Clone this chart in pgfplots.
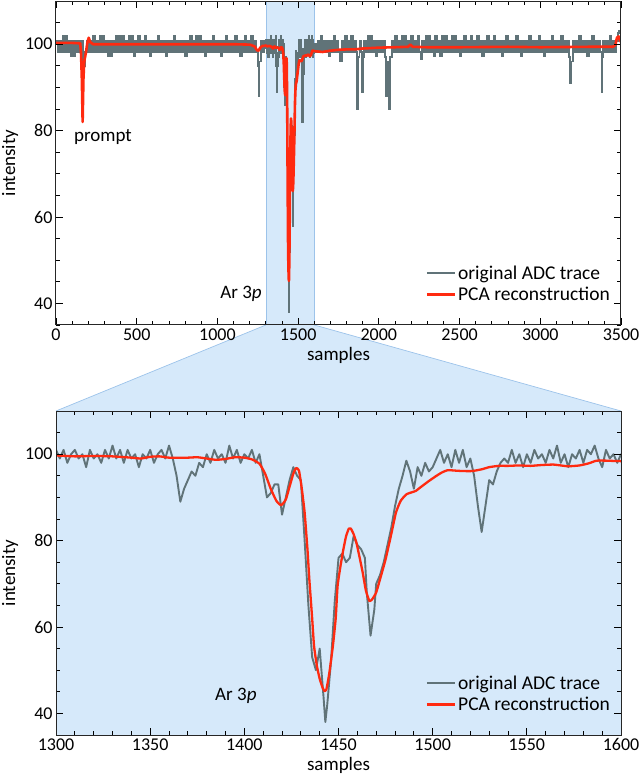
\documentclass[border=0pt]{standalone}
\usepackage{fontspec}
\setmainfont{Carlito}
\usepackage{pgfplots}
\pgfplotsset{compat=1.18}
\usepackage{pgfplotstable}
\definecolor{tracegray}{HTML}{607378}
\definecolor{pcared}{HTML}{FF2A10}
\definecolor{lightblue}{HTML}{D6E9FA}
\definecolor{edgeblue}{HTML}{9CC3EA}
\pgfdeclarelayer{background}
\pgfsetlayers{background,main}

% original ADC trace (coarse outside the zoomed window, fine inside it)
\pgfplotstableread{
x y
0 100.8
10 98.2
20 100.8
30 98.2
40 101.8
50 98.2
60 101.8
70 98.2
80 100.8
90 97.3
100 100.8
110 97.3
120 100.8
130 98.2
140 100.8
150 98.2
160 100.8
170 96
175 95
180 98.2
190 100.8
200 98.2
210 100.8
220 98.2
230 101.8
240 98.2
250 100.8
260 98.2
270 101.8
280 98.2
290 101.8
300 98.2
310 100.8
320 97.3
330 100.8
340 97.3
350 100.8
360 98.2
370 101.8
380 98.2
390 101.8
400 98.2
410 101.8
420 98.2
430 100.8
440 98.2
450 101.8
460 98.2
470 101.8
480 97.3
490 100.8
500 98.2
510 101.8
520 98.2
530 100.8
540 98.2
550 101.8
560 98.2
570 100.8
580 97.3
590 100.8
600 98.2
610 100.8
620 98.2
630 101.8
640 98.2
650 100.8
660 98.2
670 100.8
680 97.3
690 100.8
700 98.2
710 100.8
720 98.2
730 101.8
740 98.2
750 100.8
760 98.2
770 100.8
780 98.2
790 100.8
800 97.3
810 100.8
820 98.2
830 101.8
840 98.2
850 100.8
860 98.2
870 101.8
880 98.2
890 101.8
900 98.2
910 100.8
920 97.3
930 100.8
940 98.2
950 100.8
960 98.2
970 101.8
980 98.2
990 100.8
1000 98.2
1010 100.8
1020 97.3
1030 100.8
1040 98.2
1050 101.8
1060 98.2
1070 100.8
1080 98.2
1090 100.8
1100 98.2
1110 101.8
1120 98.2
1130 100.8
1140 97.3
1150 100.8
1160 98.2
1170 101.8
1180 98.2
1190 100.8
1200 98.2
1210 101.8
1220 98.2
1230 100.8
1240 98.2
1250 95
1255 88
1260 96
1270 100.8
1280 98.2
1290 100.8
1300 101
1302 99
1304 101
1306 98
1308 100
1310 101
1312 99
1314 100
1316 97
1318 101
1320 99
1322 100
1324 98
1326 101
1328 99
1330 102
1332 99
1334 101
1336 98
1338 101
1340 99
1342 100
1344 97
1346 100
1348 99
1350 101
1352 98
1354 100
1356 101
1358 99
1360 102
1362 99
1364 95
1366 89
1368 92
1370 94
1372 96
1374 95
1376 98
1378 97
1380 100
1382 98
1384 101
1386 99
1388 100
1390 98
1392 102
1394 99
1396 101
1398 98
1400 100
1402 99
1404 101
1406 98
1408 100
1410 95
1412 90
1414 91
1416 93
1418 93
1420 86
1422 90
1424 94
1426 97
1428 95
1430 94
1432 80
1434 65
1436 53
1438 50
1440 55
1442 44
1443 38
1444 42
1446 52
1448 66
1450 76
1452 77
1454 75
1456 76
1458 81
1460 79
1462 78
1464 76
1465 68
1467 58
1469 64
1470 70
1472 72
1474 75
1476 79
1478 83
1480 88
1482 92
1484 95
1486 98.5
1488 96
1490 92
1492 97
1494 95
1496 98
1498 96
1500 97
1502 99
1504 101
1506 98
1508 100
1510 97
1512 101
1514 98
1516 101
1518 97
1520 99
1522 95
1524 88
1526 82
1528 88
1530 94
1532 93
1534 96
1536 98
1538 99
1540 98
1542 101
1544 98
1546 100
1548 97
1550 100
1552 98
1554 101
1556 99
1558 100
1560 98
1562 101
1564 99
1566 102
1568 98
1570 100
1572 97
1574 100
1576 99
1578 101
1580 98
1582 101
1584 100
1586 102
1588 99
1590 97
1592 101
1594 99
1596 100
1598 98
1600 100
1610 98.2
1620 100.8
1630 98.2
1640 101.8
1650 98.2
1660 100.8
1670 98.2
1680 100.8
1690 97.3
1700 100.8
1710 98.2
1720 101.8
1730 98.2
1740 100.8
1750 98.2
1760 96
1770 100.8
1780 98.2
1790 101.8
1800 98.2
1810 100.8
1820 98.2
1830 101.8
1840 98.2
1850 100.8
1860 98.2
1865 85
1870 97
1880 100.8
1890 98.2
1895 89
1905 97
1910 100.8
1920 98.2
1930 101.8
1940 98.2
1950 101.8
1960 98.2
1970 100.8
1980 97.3
1990 100.8
2000 98.2
2010 100.8
2020 98.2
2030 100.8
2040 97
2045 88
2050 93
2055 96
2060 92
2065 85
2070 97
2080 100.8
2090 98.2
2100 101.8
2110 98.2
2120 100.8
2130 98.2
2140 101.8
2150 98.2
2160 101.8
2170 98.2
2180 100.8
2190 98.2
2200 101.8
2210 98.2
2220 100.8
2230 98.2
2240 101.8
2250 98.2
2260 96.5
2270 100.8
2280 98.2
2290 101.8
2300 98.2
2310 101.8
2320 98.2
2330 100.8
2340 97.3
2350 101.8
2360 98.2
2370 100.8
2380 97.3
2390 101.8
2400 98.2
2410 101.8
2420 98.2
2430 100.8
2440 98.2
2450 101.8
2460 98.2
2470 101.8
2480 98.2
2490 100.8
2500 97.3
2510 100.8
2520 98.2
2530 101.8
2540 98.2
2550 100.8
2560 98.2
2570 101.8
2580 98.2
2590 100.8
2600 98.2
2610 101.8
2620 98.2
2630 100.8
2640 97.3
2650 100.8
2660 98.2
2670 101.8
2680 98.2
2690 100.8
2700 98.2
2710 101.8
2720 98.2
2730 100.8
2740 98.2
2750 100.8
2760 97.3
2770 100.8
2780 98.2
2790 101.8
2800 98.2
2810 100.8
2820 98.2
2830 100.8
2840 98.2
2850 101.8
2860 98.2
2870 100.8
2880 97.3
2890 100.8
2900 98.2
2910 100.8
2920 98.2
2930 101.8
2940 98.2
2950 100.8
2960 98.2
2970 100.8
2980 98.2
2990 101.8
3000 98.2
3010 100.8
3020 97.3
3030 100.8
3040 98.2
3050 100.8
3060 98.2
3070 101.8
3080 98.2
3090 100.8
3100 98.2
3110 100.8
3120 98.2
3130 101.8
3140 98.2
3150 100.8
3160 98.2
3170 100.8
3180 97
3185 91
3190 96
3200 100.8
3210 98.2
3220 100.8
3230 98.2
3240 101.8
3250 98.2
3260 100.8
3270 98.2
3280 100.8
3290 97.3
3300 100.8
3310 98.2
3320 101.8
3330 98.2
3340 100.8
3350 98.2
3360 100.8
3370 98.2
3380 89
3385 97
3390 100.8
3400 98.2
3410 100.8
3420 98.2
3430 101.8
3440 98.2
3450 100.8
3460 98.2
3470 100.8
3480 102.5
3490 103
3500 101
}\tracedata

\pgfplotstableread{
x y
0 100.3
100 100.3
150 100.2
155 98
160 92
165 82
170 92
175 96
185 98
195 100.5
203 101.5
212 100.5
230 100
500 100
800 100
1100 100
1200 99.9
1230 99.5
1245 98.6
1255 98.5
1265 99.2
1280 99.6
1290 99.6
1300 99.7
1310 99.5
1320 99.6
1330 99.5
1340 99.2
1345 99.0
1350 99.4
1355 99.5
1360 99.2
1370 99.2
1375 99.3
1380 99.0
1385 98.7
1390 98.9
1395 99.3
1400 99.2
1404 98.8
1408 97.8
1411 95.5
1414 92
1417 89.2
1419.5 88.2
1422 89.5
1424 92.5
1426 95.5
1427.5 96.8
1429 96.2
1430.5 92
1432 86.5
1433.5 78
1434.5 71
1436 62
1437 55.6
1438.5 51
1440 48
1441.5 46
1442.5 45.2
1443.5 45.5
1445 49
1447 55.6
1448.5 62
1449.5 69.5
1451 74
1452.5 77.8
1454 81
1455.5 82.8
1456.5 82.8
1458 81.5
1459.5 79.5
1461 76.5
1462.8 72.7
1464.5 68.5
1466.4 66
1468 66.5
1470 68
1472 71
1475 75.7
1478 81.5
1480.5 86.5
1483 89.2
1486 90.7
1489 91.2
1491 91.5
1494 92.5
1498 93.8
1502 95
1505 95.8
1508 96.3
1512 96.2
1516 96.1
1521 96.1
1526 96.5
1530 97
1535 97.3
1540 97.3
1546 97.4
1552 97.3
1558 97.5
1564 97.6
1568 97.4
1572 97.2
1578 97.4
1583 97.9
1587 98.5
1593 98.5
1600 98.4
1650 98.2
1700 98.5
1750 98.7
1800 98.8
1850 98.8
1900 99.0
1950 99.1
2000 99.2
2100 99.3
2180 99.4
2195 99.9
2210 99.4
2300 99.3
2500 99.3
2800 99.4
3000 99.3
3300 99.4
3450 99.4
3465 99.8
3475 101.5
3485 101.8
3495 100.8
3500 100.5
}\pcadata

\pgfplotsset{
  panel/.style={
    scale only axis, width=565pt, height=324pt,
    ymin=35, ymax=110,
    ytick={40,60,80,100},
    minor ytick={35,40,...,110},
    tick align=inside, tick pos=both,
    xticklabel pos=lower, yticklabel pos=left,
    major tick length=7pt, minor tick length=4pt,
    tick style={black, line width=0.8pt},
    axis line style={black!85, line width=1pt},
    ticklabel style={font=\fontsize{18}{20}\selectfont},
    label style={font=\fontsize{19}{21}\selectfont},
    /pgf/number format/assume math mode=true,
    /pgf/number format/1000 sep={},
    xlabel={samples}, ylabel={intensity},
    legend cell align=left,
    legend style={draw=none, fill=none, font=\fontsize{19.5}{22}\selectfont,
      at={(1,0)}, anchor=south east, xshift=-8pt, yshift=20pt, row sep=2pt,
      inner sep=1pt},
    legend image code/.code={\draw[##1, line width=2.4pt] (0pt,0pt) -- (28pt,0pt);},
    axis on top,
  }
}

\begin{document}
\begin{tikzpicture}
\useasboundingbox (0,0) rectangle (640pt,780pt);
% top panel
\begin{axis}[panel, name=top, at={(56pt,455pt)}, anchor=south west,
  xmin=0, xmax=3500,
  xtick={0,500,...,3500}, minor xtick={0,100,...,3500}]
  \fill[lightblue] (axis cs:1300,35) rectangle (axis cs:1600,110);
  \draw[edgeblue, line width=0.7pt] (axis cs:1300,35) -- (axis cs:1300,110);
  \draw[edgeblue, line width=0.7pt] (axis cs:1600,35) -- (axis cs:1600,110);
  \addplot[tracegray, line width=1.9pt, const plot, line join=miter] table[x=x,y=y]{\tracedata};
  \addlegendentry{original ADC trace}
  \addplot[pcared, line width=2.6pt, line join=round] table[x=x,y=y]{\pcadata};
  \addlegendentry{PCA reconstruction}
  \node[font=\fontsize{19}{21}\selectfont] at (axis cs:291,78.6) {prompt};
  \node[font=\fontsize{19}{21}\selectfont] at (axis cs:1146,42.2) {Ar 3\textit{p}};
  \coordinate (TL) at (axis cs:1300,35);
  \coordinate (TR) at (axis cs:1600,35);
\end{axis}
% bottom panel
\begin{axis}[panel, name=bot, at={(56pt,45pt)}, anchor=south west,
  xmin=1300, xmax=1600,
  xtick={1300,1350,...,1600}, minor xtick={1300,1310,...,1600},
  axis background/.style={fill=lightblue}]
  \addplot[tracegray, line width=1.9pt, line join=round] table[x=x,y=y]{\tracedata};
  \addlegendentry{original ADC trace}
  \addplot[pcared, line width=2.3pt, line join=round, smooth, tension=0.3] table[x=x,y=y]{\pcadata};
  \addlegendentry{PCA reconstruction}
  \node[font=\fontsize{19}{21}\selectfont] at (axis cs:1395.5,44) {Ar 3\textit{p}};
\end{axis}
\begin{pgfonlayer}{background}
  \fill[lightblue] (TL) -- (TR) -- (bot.north east) -- (bot.north west) -- cycle;
  \draw[edgeblue, line width=0.7pt] (TL) -- (bot.north west);
  \draw[edgeblue, line width=0.7pt] (TR) -- (bot.north east);
\end{pgfonlayer}
\end{tikzpicture}
\end{document}
